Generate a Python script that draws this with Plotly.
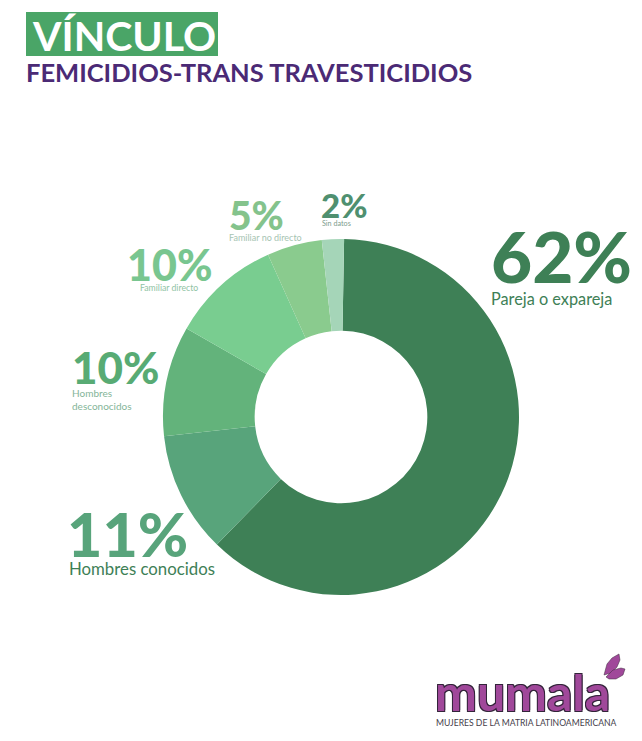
import plotly.graph_objects as go

W, H = 642, 741
categories = ["Pareja o expareja", "Hombres conocidos", "Hombres desconocidos",
              "Familiar directo", "Familiar no directo", "Sin datos"]
values = [62, 11, 10, 10, 5, 2]
colors = ["#3e8056", "#58a47b", "#63b37b", "#79cd90", "#8acb8e", "#a5d5b8"]
pct_colors = ["#3e8056", "#58a47b", "#58ab74", "#79c690", "#84c38c", "#4f9070"]
sub_colors = ["#3e8056", "#3e8056", "#84b598", "#8fc3a4", "#a6c4b2", "#7d9c8c"]
label_lines = ["Pareja o expareja", "Hombres conocidos", "Hombres<br>desconocidos",
               "Familiar directo", "Familiar no directo", "Sin datos"]
pct_pos = [(491, 256, "left", 71), (67, 533, "left", 61), (72, 367, "left", 44),
           (127, 264, "left", 43), (229, 215, "left", 39), (321, 205, "left", 33)]
sub_pos = [(491, 298, "left", 16.3), (69, 568, "left", 16.8), (72, 399, "left", 10),
           (140, 287, "left", 8.7), (229, 238, "left", 9), (322, 223, "left", 7.2)]


def px(x):
    return x / W


def py(y):
    return 1 - y / H


cx, cy, r = 341, 417, 178
fig = go.Figure(go.Pie(
    labels=categories, values=values, hole=0.485, sort=False, direction="clockwise",
    rotation=1, textinfo="none", hoverinfo="label+percent",
    marker=dict(colors=colors, line=dict(width=0)),
    domain=dict(x=[px(cx - r), px(cx + r)], y=[py(cy + r), py(cy - r)]),
    showlegend=False,
))


def text(x, y, s, size, color, anchor="left", weight=400, family="Lato"):
    fig.add_annotation(x=px(x), y=py(y), xref="paper", yref="paper", text=s, showarrow=False,
                       xanchor=anchor, yanchor="middle", align=anchor,
                       font=dict(family=family, size=size, color=color, weight=weight),
                       borderpad=0, borderwidth=0)


for v, (x, y, a, s), c in zip(values, pct_pos, pct_colors):
    text(x, y, f"{v}%", s, c, a, 900)
for t, (x, y, a, s), c in zip(label_lines, sub_pos, sub_colors):
    text(x, y, t, s, c, a)

shapes = [
    dict(type="rect", xref="paper", yref="paper", x0=px(26), x1=px(218), y0=py(56), y1=py(12),
         fillcolor="#4aa567", line_width=0, layer="below"),
]


def pth(points, fill, line="#3a2a3a"):
    d = "M " + " L ".join(f"{px(a):.5f},{py(b):.5f}" for a, b in points) + " Z"
    return dict(type="path", xref="paper", yref="paper", path=d, fillcolor=fill,
                line=dict(color=line, width=0.5))


shapes.append(pth([(604, 675), (607, 664), (612, 658), (619, 654), (620, 660), (617, 667), (611, 673)], "#a0489a"))
shapes.append(pth([(606, 677), (613, 670), (621, 668), (625, 669), (623, 675), (616, 679), (609, 679)], "#a0489a"))
fig.update_layout(
    width=W, height=H, margin=dict(l=0, r=0, t=0, b=0),
    paper_bgcolor="white", plot_bgcolor="white", shapes=shapes,
)

text(32, 35, "VÍNCULO", 41, "white", "left", 700)
text(26, 72, "FEMICIDIOS-TRANS TRAVESTICIDIOS", 25.5, "#4b2a75", "left", 700)

# logo
fig.add_annotation(x=px(433), y=py(692), xref="paper", yref="paper", text="mumala", showarrow=False,
                   xanchor="left", yanchor="middle",
                   font=dict(family="Lato", size=50, color="#a0489a", weight=700,
                             shadow="1px 1px 0 #33243a, -1px -1px 0 #33243a, 1px -1px 0 #33243a, -1px 1px 0 #33243a"))
text(436, 723, "MUJERES DE LA MATRIA LATINOAMERICANA", 8.6, "#45404a", "left", 400)

fig.write_html("out.html", config=dict(displayModeBar=False),
               post_script="document.body.style.margin='0';")
